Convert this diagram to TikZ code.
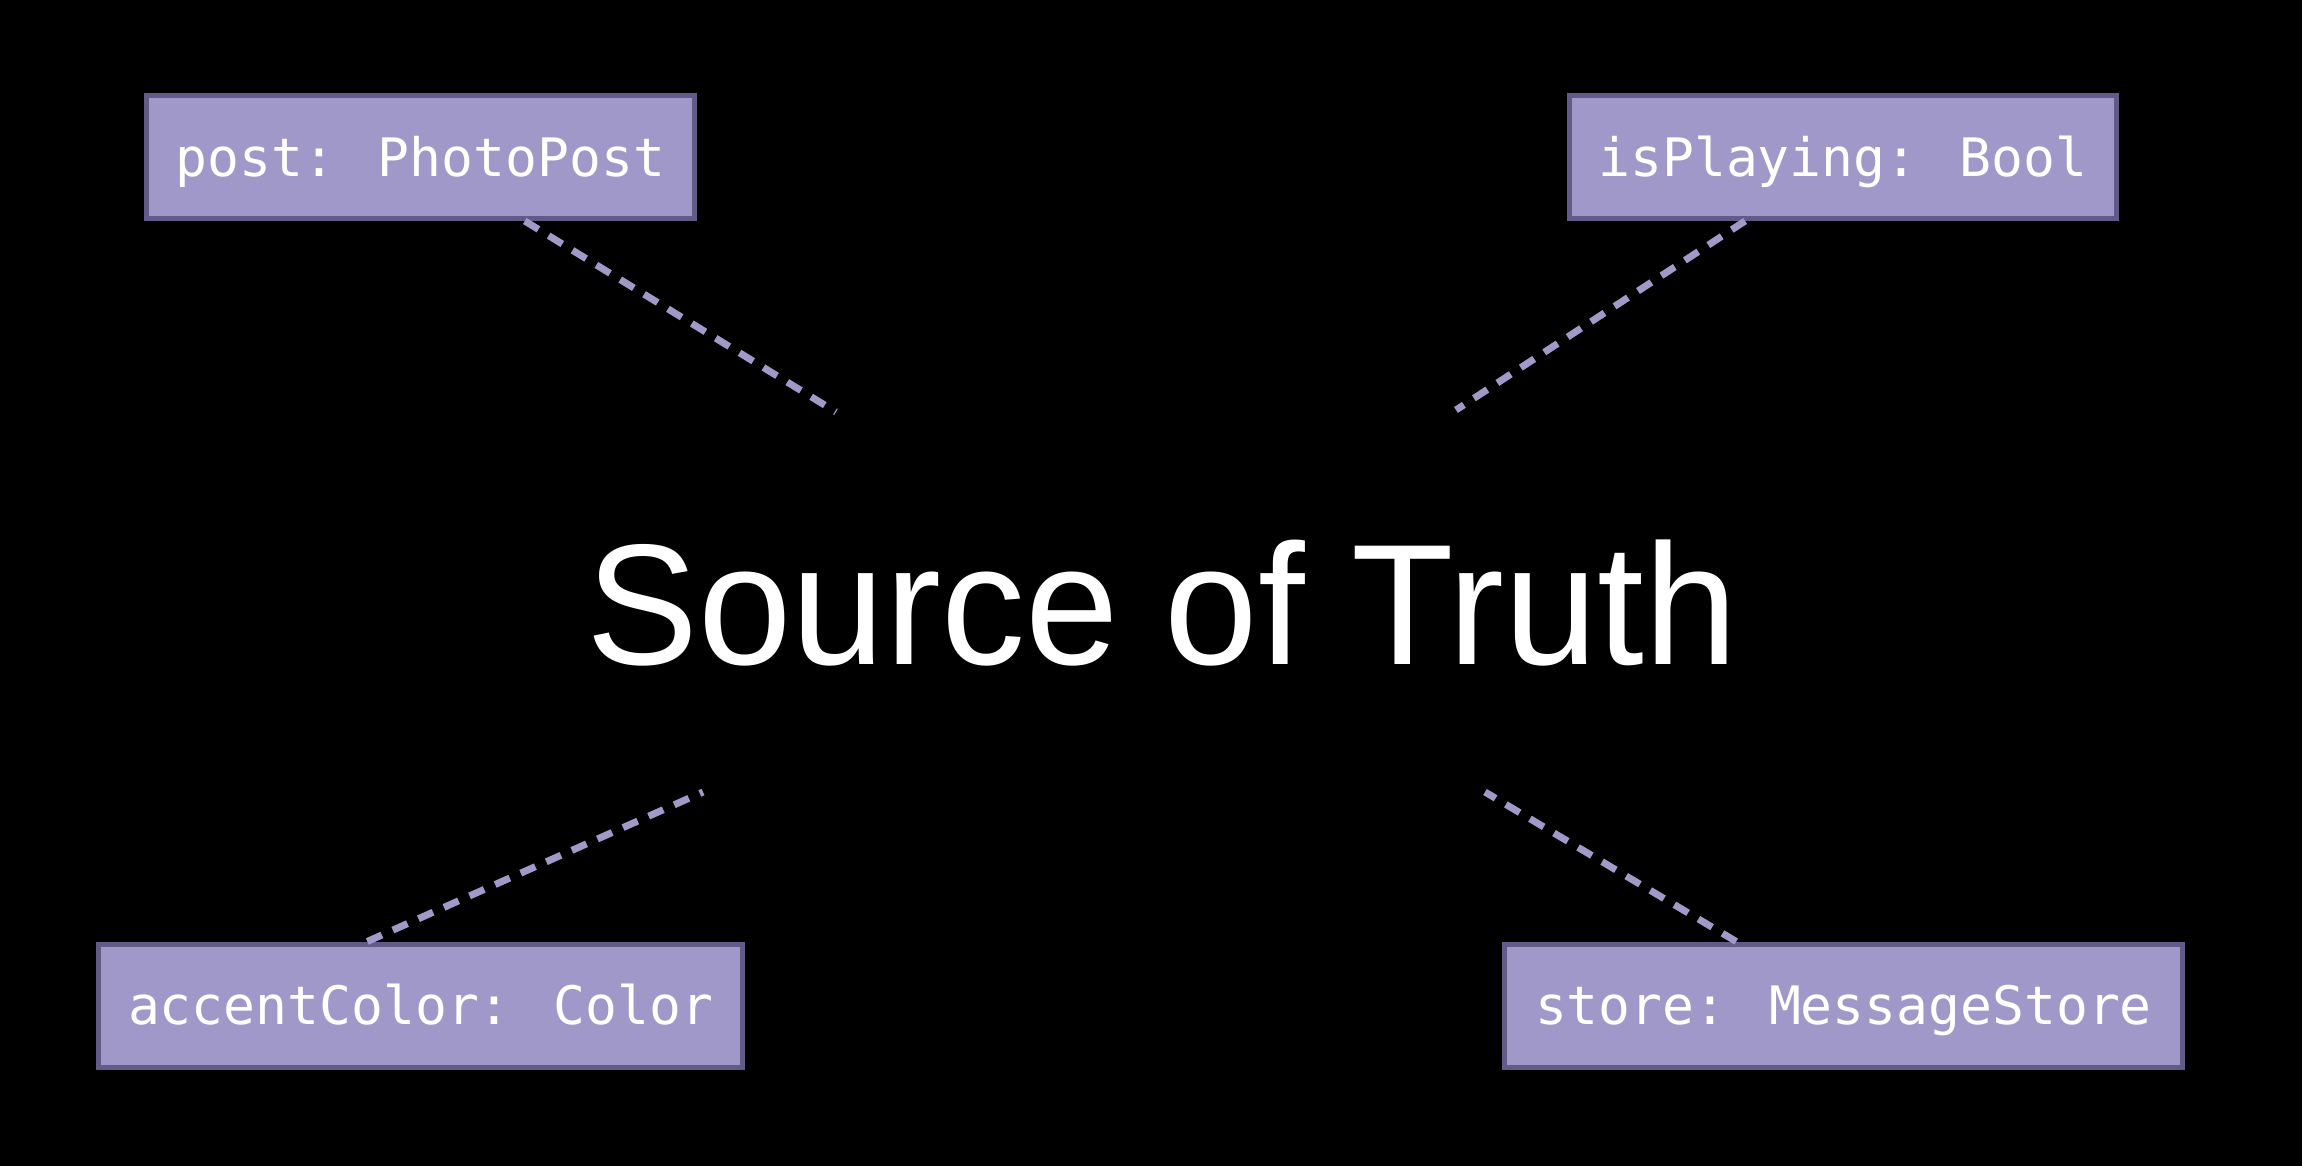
\documentclass[tikz,border=0pt]{standalone}
\usepackage{fontspec}
\setmainfont{Liberation Sans}
\newfontfamily\monofont{DejaVu Sans Mono}
\newfontfamily\titlefont[FakeStretch=0.976]{Liberation Sans}
\usetikzlibrary{calc}
\definecolor{boxfill}{HTML}{9F98C8}
\definecolor{boxline}{HTML}{625B87}
\definecolor{dashcol}{HTML}{A09AC9}
\begin{document}
\begin{tikzpicture}[x=0.5pt,y=-0.5pt,
  varbox/.style={draw=boxline, fill=boxfill, line width=2.5pt, text=white,
    font=\monofont\fontsize{26.5pt}{30pt}\selectfont, inner sep=0pt,
    minimum height=61.5pt, text height=19.3pt, text depth=0pt},
  link/.style={draw=dashcol, line width=3.5pt, dash pattern=on 8pt off 6pt}]
\fill[black] (0,0) rectangle (2302,1166);
\useasboundingbox (0,0) rectangle (2302,1166);
\node[varbox, minimum width=274pt] (post) at (420.5,157) {post: PhotoPost};
\node[varbox, minimum width=273.5pt] (play) at (1843,157) {isPlaying: Bool};
\node[varbox, minimum width=322pt] (acc) at (420.5,1005.5) {accentColor: Color};
\node[varbox, minimum width=339pt] (store) at (1843.5,1005.5) {store: MessageStore};
\node[font=\titlefont\fontsize{86pt}{100pt}\selectfont, text=white, anchor=base, inner sep=0pt] (title) at (1162,664) {Source of Truth};
\coordinate (e1) at (836,412);
\coordinate (e2) at (1456,410);
\coordinate (e3) at (703,792);
\coordinate (e4) at (1485,792);
\draw[link] (post) -- (e1);
\draw[link] (play) -- (e2);
\draw[link] ($(acc.north west)!0.418!(acc.north east)$) -- (e3);
\draw[link] (store) -- (e4);
\end{tikzpicture}
\end{document}
